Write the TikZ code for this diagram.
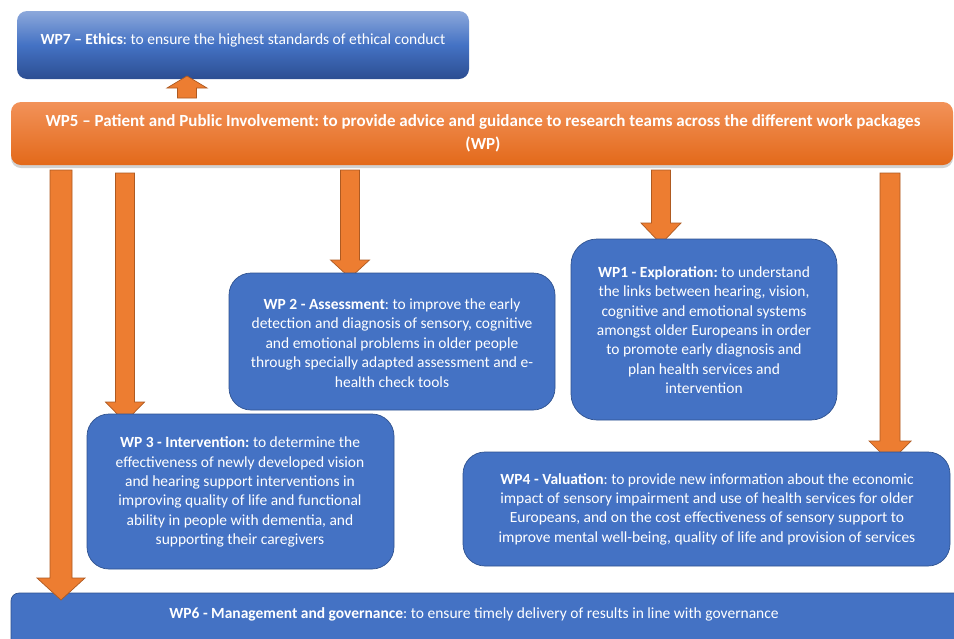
\documentclass[tikz,border=0pt]{standalone}
\usepackage{fontspec}
\setmainfont{Carlito}
\frenchspacing
\usetikzlibrary{shadows}
\definecolor{wpblue}{HTML}{4472C4}
\definecolor{wpblueline}{HTML}{2F528F}
\definecolor{wporange}{HTML}{ED7D31}
\definecolor{wporangeline}{HTML}{AE5A21}
\definecolor{gradtop}{HTML}{8CA8DB}
\definecolor{gradbot}{HTML}{2C4E92}
\definecolor{ortop}{HTML}{F29259}
\definecolor{orbot}{HTML}{E3691A}
\newcommand\blockarrowdown[6]{% cx, ytop, ytip, shaft half, head half, head length
  \fill[wporange,draw=wporangeline,line width=0.7pt]
    (#1-#4,#2) -- (#1+#4,#2) -- (#1+#4,#3-#6) -- (#1+#5,#3-#6) -- (#1,#3)
    -- (#1-#5,#3-#6) -- (#1-#4,#3-#6) -- cycle;}
\newcommand\blockarrowup[6]{% cx, ybottom, ytip, shaft half, head half, head length
  \fill[wporange,draw=wporangeline,line width=0.7pt]
    (#1-#4,#2) -- (#1+#4,#2) -- (#1+#4,#3+#6) -- (#1+#5,#3+#6) -- (#1,#3)
    -- (#1-#5,#3+#6) -- (#1-#4,#3+#6) -- cycle;}
\tikzset{
  bluebox/.style={draw=wpblueline,fill=wpblue,line width=0.7pt,rounded corners=22pt},
  wptext/.style={text=white,align=center,inner sep=0pt,
    font=\fontsize{15.5pt}{19.4pt}\selectfont},
}
\begin{document}
\begin{tikzpicture}[x=1pt,y=-1pt]
\clip (0,0) rectangle (954,638);
\fill[white] (0,0) rectangle (954,638);

% WP7
\path[rounded corners=10pt,top color=gradtop,bottom color=gradbot,middle color=wpblue]
  (17,11) rectangle (469,79);
\node[wptext] (wp7) at (243,40) {\textbf{WP7 – Ethics}: to ensure the highest standards of ethical conduct};

% WP5
\path[rounded corners=10pt,top color=ortop,bottom color=orbot,
  drop shadow={shadow xshift=0pt,shadow yshift=-3pt,opacity=0.35,fill=black!50}]
  (11,102) rectangle (953,165);
\node[wptext,font=\fontsize{17pt}{23pt}\selectfont\bfseries] (wp5) at (483,133)
  {WP5 – Patient and Public Involvement: to provide advice and guidance to research teams across the different work packages\\(WP)};

% WP6
\path[draw=wpblueline,fill=wpblue,line width=0.7pt,rounded corners=8pt] (11,593) rectangle (975,680);
\node[wptext] (wp6) at (474,614) {\textbf{WP6 - Management and governance}: to ensure timely delivery of results in line with governance};

% arrows
\blockarrowup{187}{98}{76}{9.5}{20}{12}
\blockarrowdown{61}{170}{600}{11}{24}{22}
\blockarrowdown{125}{173}{422}{9.5}{19.5}{20}
\blockarrowdown{350}{170}{278}{9.5}{19.5}{18}
\blockarrowdown{661}{170}{244}{9.5}{20}{21}
\blockarrowdown{890}{173}{462}{10}{21}{21}

% WP2
\path[bluebox] (229,273) rectangle (555,410);
\node[wptext] (wp2) at (392,343) {\textbf{WP 2 - Assessment}: to improve the early\\
detection and diagnosis of sensory, cognitive\\
and emotional problems in older people\\
through specially adapted assessment and e-\\
health check tools};

% WP1
\path[bluebox,rounded corners=26pt] (571,239) rectangle (837,420);
\node[wptext] (wp1) at (704,330) {\textbf{WP1 - Exploration:} to understand\\
the links between hearing, vision,\\
cognitive and emotional systems\\
amongst older Europeans in order\\
to promote early diagnosis and\\
plan health services and\\
intervention};

% WP3
\path[bluebox] (87,414) rectangle (394,569);
\node[wptext] (wp3) at (240,492) {\textbf{WP 3 - Intervention:} to determine the\\
effectiveness of newly developed vision\\
and hearing support interventions in\\
improving quality of life and functional\\
ability in people with dementia, and\\
supporting their caregivers};

% WP4
\path[bluebox] (463,452) rectangle (950,566);
\node[wptext] (wp4) at (707,509) {\textbf{WP4 - Valuation}: to provide new information about the economic\\
impact of sensory impairment and use of health services for older\\
Europeans, and on the cost effectiveness of sensory support to\\
improve mental well-being, quality of life and provision of services};
\end{tikzpicture}
\end{document}
